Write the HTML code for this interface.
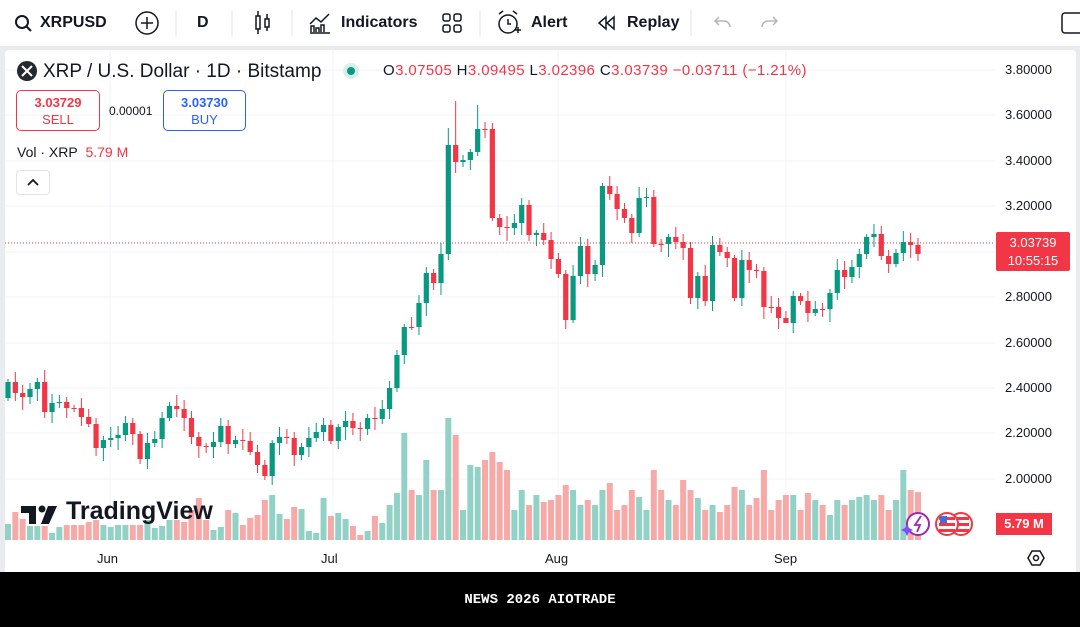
<!DOCTYPE html>
<html><head><meta charset="utf-8"><style>
html,body{margin:0;padding:0;width:1080px;height:627px;overflow:hidden;background:#fff;font-family:"Liberation Sans",sans-serif;}
#root{position:relative;width:1080px;height:627px;background:#e9ebee;}
.tb{position:absolute;left:0;top:0;width:1080px;height:46px;background:#fff;}
.panel{position:absolute;left:5px;top:50px;width:1071px;height:522px;background:#fff;border-radius:4px 4px 0 0;}
.t{position:absolute;white-space:nowrap;color:#131722;}
.foot{position:absolute;left:0;top:572px;width:1080px;height:55px;background:#000;color:#fff;font-family:"Liberation Mono",monospace;font-size:14px;font-weight:bold;text-align:center;line-height:56px;}
svg{position:absolute;left:0;top:0;}
</style></head><body><div id="root">
<div class="tb"></div>
<div class="panel"></div>
<svg id="s" width="1080" height="572" viewBox="0 0 1080 572"></svg>
<div class="t" style="left:40px;top:14px;font-size:16px;font-weight:bold;">XRPUSD</div>
<div class="t" style="left:197px;top:14px;font-size:16px;font-weight:bold;">D</div>
<div class="t" style="left:341px;top:14px;font-size:16px;font-weight:bold;">Indicators</div>
<div class="t" style="left:531px;top:14px;font-size:16px;font-weight:bold;">Alert</div>
<div class="t" style="left:627px;top:14px;font-size:16px;font-weight:bold;">Replay</div>
<div class="t" style="left:43px;top:61px;font-size:19px;">XRP / U.S. Dollar · 1D · Bitstamp</div>
<div class="t" style="left:383px;top:62px;font-size:15px;letter-spacing:0.4px;">O<span style="color:#f23645">3.07505</span> H<span style="color:#f23645">3.09495</span> L<span style="color:#f23645">3.02396</span> C<span style="color:#f23645">3.03739</span> <span style="color:#f23645">&minus;0.03711 (&minus;1.21%)</span></div>
<div class="t" style="left:16px;top:90px;width:84px;height:41px;border:1px solid #f23645;border-radius:5px;color:#f23645;text-align:center;font-size:13px;font-weight:bold;line-height:17px;padding-top:3px;box-sizing:border-box;">3.03729<br><span style="font-weight:normal">SELL</span></div>
<div class="t" style="left:109px;top:104px;font-size:12px;">0.00001</div>
<div class="t" style="left:163px;top:90px;width:83px;height:41px;border:1px solid #2962ff;border-radius:5px;color:#2962ff;text-align:center;font-size:13px;font-weight:bold;line-height:17px;padding-top:3px;box-sizing:border-box;">3.03730<br><span style="font-weight:normal">BUY</span></div>
<div class="t" style="left:17px;top:144px;font-size:14px;">Vol · XRP&nbsp; <span style="color:#f23645">5.79 M</span></div>
<div class="t" style="left:16px;top:170px;width:34px;height:25px;border:1px solid #e0e3eb;border-radius:4px;box-sizing:border-box;"></div>
<div class="t" style="left:20px;top:497px;font-size:25px;font-weight:bold;color:#131722;padding-left:46px;">TradingView</div>
<div id="ax"></div>
<div class="t" style="left:996px;top:232px;width:74px;height:39px;background:#f23645;color:#fff;font-size:13px;text-align:center;line-height:18px;padding-top:2px;box-sizing:border-box;border-radius:2px;">3.03739<br>10:55:15</div>
<div class="t" style="left:996px;top:513px;width:56px;height:22px;background:#f23645;color:#fff;font-size:13px;font-weight:bold;text-align:center;line-height:22px;">5.79 M</div>
<div class="t" style="left:97px;top:551px;font-size:13px;">Jun</div>
<div class="t" style="left:321px;top:551px;font-size:13px;">Jul</div>
<div class="t" style="left:545px;top:551px;font-size:13px;">Aug</div>
<div class="t" style="left:774px;top:551px;font-size:13px;">Sep</div>
<div class="foot">NEWS 2026 AIOTRADE</div>
</div>
<script>
var C=[382,393,397,389,382,412,403,402,408,408,417,424,448,440,438,435,423,434,459,443,439,418,406,409,418,437,446,447,442,426,444,440,441,452,465,476,443,437,438,455,447,438,432,425,441,427,421,428,429,418,419,409,388,355,
327,327,303,273,283,254,145,162,160,152,129,129,218,227,228,223,205,235,233,240,259,274,320,276,246,274,265,186,194,209,218,233,198,197,244,244,237,242,248,298,276,301,245,252,258,298,260,270,271,307,307,318,323,296,301,313,309,309,293,270,277,267,254,237,234,256,264,253,242,245,254];
var V=[524,512,519,526,526,526,533,527,525,525,525,522,520,525,527,525,525,525,525,520,528,526,520,520,522,510,498,520,530,527,510,513,525,518,515,500,495,514,519,507,509,531,533,498,516,513,519,526,535,531,516,523,505,493,
433,490,495,460,490,490,418,435,510,465,467,460,452,462,470,510,490,505,495,502,500,495,485,490,505,500,505,490,483,510,505,490,497,510,470,490,500,505,480,490,498,510,505,512,505,487,490,505,498,470,510,500,495,495,510,493,500,505,515,500,505,500,497,495,500,495,510,500,470,490,492];
var s='';
var py=[70,115,161,206,252,297,343,388,433,479],pl=['3.80000','3.60000','3.40000','3.20000','3.00000','2.80000','2.60000','2.40000','2.20000','2.00000'];
py.forEach(function(y){s+='<line x1="5" x2="995" y1="'+y+'" y2="'+y+'" stroke="#f0f3fa"/>';});
[110,333,558,786].forEach(function(x){s+='<line x1="'+x+'" x2="'+x+'" y1="50" y2="540" stroke="#f0f3fa"/>';});
var G='#089981',R='#f23645',GV='#92d2c6',RV='#f7a9a7';
var N=C.length,sp=(918-8)/(N-1);
for(var i=0;i<N;i++){var x=8+sp*i;var o=i?C[i-1]:398;var up=C[i]<o;var v=V[Math.min(i,V.length-1)];s+='<rect x="'+(x-3)+'" y="'+v+'" width="6" height="'+(540-v)+'" fill="'+(up?GV:RV)+'"/>';}
s+='<line x1="5" x2="995" y1="243" y2="243" stroke="#f23645" stroke-dasharray="1,2"/>';
for(var i=0;i<N;i++){var x=8+sp*i;var o=i?C[i-1]:398;var c=C[i];var up=c<o;var col=up?G:R;
var t=Math.min(o,c),b=Math.max(o,c);var h=t-(3+((i*7)%9)),l=b+(3+((i*5)%11));
if(i==60)h=128;if(i==61)h=101;if(i==64)h=105;if(i==65)h=122;if(i==5)h=370;if(i==36)l=485;if(i==35)l=480;if(i==106)l=320;
s+='<line x1="'+x+'" x2="'+x+'" y1="'+h+'" y2="'+l+'" stroke="'+col+'" stroke-width="1"/>';
s+='<rect x="'+(x-2.6)+'" y="'+t+'" width="5.2" height="'+Math.max(1,b-t)+'" fill="'+col+'"/>';}
s+='<circle cx="22" cy="22" r="6" fill="none" stroke="#131722" stroke-width="2"/><line x1="26" y1="26" x2="31" y2="31" stroke="#131722" stroke-width="2"/>';
s+='<circle cx="147" cy="23" r="11" fill="none" stroke="#131722" stroke-width="1.5"/><path d="M141 23h12M147 17v12" stroke="#131722" stroke-width="1.5"/>';
[176,232,292,480,691].forEach(function(x){s+='<line x1="'+x+'" x2="'+x+'" y1="10" y2="36" stroke="#e0e3eb"/>';});
s+='<rect x="256" y="16" width="4" height="13" fill="none" stroke="#131722" stroke-width="1.5"/><rect x="265" y="19" width="4" height="8" fill="none" stroke="#131722" stroke-width="1.5"/><path d="M258 11v5M258 29v5M267 14v5M267 27v4" stroke="#131722" stroke-width="1.5"/>';
s+='<path d="M310 33h20M311 32v-6h3v6M316 32v-4h3v4M321 32v-7h3v7M310 24l6-6 5 4 8-8" fill="none" stroke="#131722" stroke-width="1.5"/>';
s+='<rect x="443" y="14" width="7" height="7" rx="2" fill="none" stroke="#131722" stroke-width="1.5"/><rect x="454" y="14" width="7" height="7" rx="2" fill="none" stroke="#131722" stroke-width="1.5"/><rect x="443" y="25" width="7" height="7" rx="2" fill="none" stroke="#131722" stroke-width="1.5"/><rect x="454" y="25" width="7" height="7" rx="2" fill="none" stroke="#131722" stroke-width="1.5"/>';
s+='<circle cx="508" cy="24" r="9" fill="none" stroke="#131722" stroke-width="1.5"/><path d="M508 19v5h3M515 30h6M518 27v6M499 14l4-3M517 14l-4-3" stroke="#131722" stroke-width="1.5" fill="none"/>';
s+='<path d="M606 17l-7 6 7 6zM614 17l-7 6 7 6z" fill="none" stroke="#131722" stroke-width="1.5"/>';
s+='<path d="M730 27a6 6 0 0 0-6-6h-8M719 17l-4 4 4 4" fill="none" stroke="#b2b5be" stroke-width="1.5"/><path d="M762 27a6 6 0 0 1 6-6h8M773 17l4 4-4 4" fill="none" stroke="#b2b5be" stroke-width="1.5"/>';
s+='<rect x="1062" y="13" width="22" height="20" rx="3" fill="none" stroke="#131722" stroke-width="1.5"/>';
s+='<circle cx="27" cy="71" r="10" fill="#23292f"/><path d="M22 66l10 10M32 66l-10 10" stroke="#fff" stroke-width="2"/>';
s+='<circle cx="351" cy="71" r="8" fill="#d7efe9"/><circle cx="351" cy="71" r="4" fill="#089981"/>';
s+='<path d="M28 185l5-5 5 5" fill="none" stroke="#131722" stroke-width="1.8"/>';
s+='<path d="M21 506h15v18h-7v-11h-8z" fill="#131722"/><circle cx="42" cy="509" r="3.5" fill="#131722"/><path d="M48 506h9l-8 18h-8z" fill="#131722"/>';
s+='<circle cx="918" cy="524" r="11" fill="#fff" stroke="#9c27b0" stroke-width="2"/><path d="M921 516l-6 9h5l-3 7" stroke="#9c27b0" stroke-width="1.8" fill="none"/><path d="M905 528l2-4 2 4 4 2-4 2-2 4-2-4-4-2z" fill="#7c4dff"/>';
s+='<circle cx="961" cy="524" r="11" fill="#fff" stroke="#f23645" stroke-width="2"/><rect x="953" y="517" width="16" height="3" fill="#f23645"/><rect x="953" y="523" width="16" height="3" fill="#f23645"/><rect x="953" y="529" width="16" height="3" fill="#f23645"/>';
s+='<circle cx="947" cy="524" r="11" fill="#fff" stroke="#f23645" stroke-width="2"/><rect x="939" y="517" width="16" height="3" fill="#f23645"/><rect x="939" y="523" width="16" height="3" fill="#f23645"/><rect x="939" y="529" width="16" height="3" fill="#f23645"/><rect x="940" y="516" width="7" height="7" fill="#3f6fd8"/>';
s+='<path d="M1032 551h8l4 7-4 7h-8l-4-7z" fill="none" stroke="#131722" stroke-width="1.5"/><circle cx="1036" cy="558" r="2.5" fill="none" stroke="#131722" stroke-width="1.5"/>';
document.getElementById('s').innerHTML=s;
var a='';py.forEach(function(y,i){a+='<div class="t" style="left:1005px;top:'+(y-8)+'px;font-size:13px;">'+pl[i]+'</div>';});
document.getElementById('ax').innerHTML=a;
</script>
</body></html>
